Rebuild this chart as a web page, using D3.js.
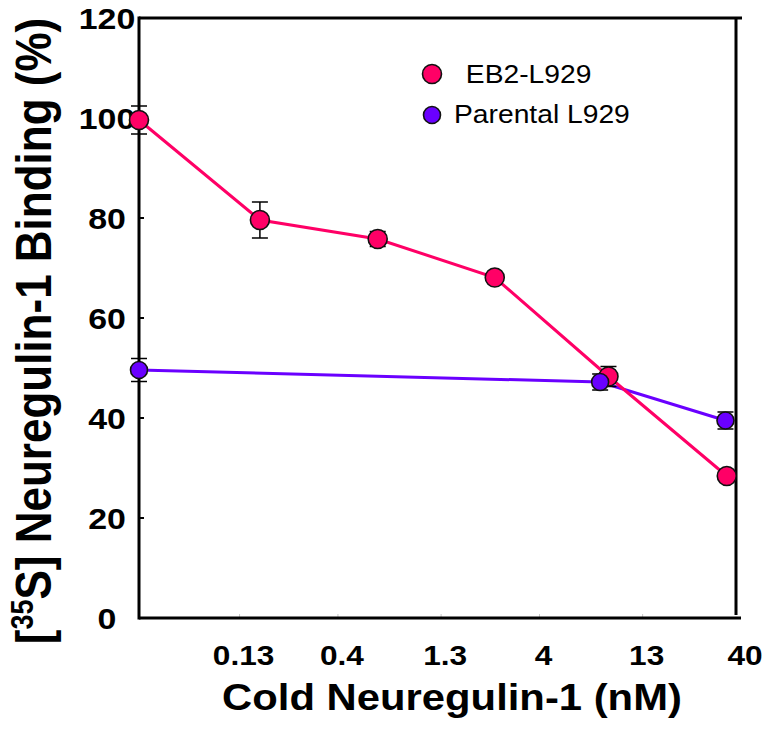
<!DOCTYPE html>
<html>
<head>
<meta charset="utf-8">
<script src="https://cdn.jsdelivr.net/npm/d3@7"></script>
<style>
  html, body { margin: 0; padding: 0; background: #fff; }
  svg { display: block; }
  text { font-family: "Liberation Sans", Arial, Helvetica, sans-serif; fill: #000; }
</style>
</head>
<body>
<svg id="chart" width="767" height="747"></svg>
<script>
// ---- data ----
const xDomain = [0.0412, 40];                 // nM, left edge = zero dose
const xTickValues = [0.13, 0.4, 1.3, 4, 13, 40];
const xTickLabels = ["0.13", "0.4", "1.3", "4", "13", "40"];
const yTickValues = [0, 20, 40, 60, 80, 100, 120];

const eb2Conc = [0, 0.164, 0.63, 2.4, 8.8, 34];
const eb2Val  = [99.6, 79.6, 75.8, 68.1, 48.3, 28.4];
const eb2Err  = [2.8, 3.6, 1.5, 0.8, 2.0, 0.8];

const parConc = [0, 8.0, 33.5];
const parVal  = [49.6, 47.2, 39.5];
const parErr  = [2.3, 1.6, 1.7];

const seriesNames = [" EB2-L929", "Parental L929"];
const seriesColors = ["#ff0066", "#6a00ff"];

// ---- layout ----
const svg = d3.select("#chart");
const L = 139, R = 741, T = 18, B = 618;
const SX = 1.13; // horizontal glyph stretch

const x = d3.scaleLog().domain(xDomain).range([L, R]);
const y = d3.scaleLinear().domain([0, 120]).range([B, T]);
const xp = c => x(c === 0 ? xDomain[0] : c);

function stretchedText(g, tx, ty, str, size, weight, anchor) {
  return g.append("text")
    .attr("transform", `translate(${tx},${ty}) scale(${SX},1)`)
    .attr("text-anchor", anchor)
    .attr("font-size", size)
    .attr("font-weight", weight)
    .text(str);
}

// x-axis faint ticks
const gx = svg.append("g");
xTickValues.slice(0, -1).forEach(v => {
  gx.append("line").attr("x1", x(v)).attr("x2", x(v)).attr("y1", B).attr("y2", B - 4)
    .attr("stroke", "#c8c8c8").attr("stroke-width", 1);
});
xTickValues.forEach((v, i) => {
  stretchedText(gx, x(v) + 4, 665, xTickLabels[i], 28, "bold", "middle");
});

// y-axis ticks
const gy = svg.append("g");
yTickValues.forEach(v => {
  if (v > 0 && v < 120) {
    gy.append("line").attr("x1", L).attr("x2", L + 5).attr("y1", y(v)).attr("y2", y(v))
      .attr("stroke", "#000").attr("stroke-width", 2);
  }
  stretchedText(gy, 107, y(v) + 11, String(v), 30, "bold", "middle");
});

// frame
const frame = svg.append("g").attr("stroke", "#000").attr("stroke-width", 3).attr("fill", "none");
frame.append("line").attr("x1", L).attr("x2", L).attr("y1", T - 1.5).attr("y2", B + 1.5);
frame.append("line").attr("x1", L).attr("x2", R + 1).attr("y1", T).attr("y2", T);
frame.append("line").attr("x1", L).attr("x2", R).attr("y1", B).attr("y2", B);
frame.append("line").attr("x1", R - 5).attr("x2", R - 5).attr("y1", T).attr("y2", B - 3);

// series
const eb2 = eb2Conc.map((c, i) => ({ c, v: eb2Val[i], e: eb2Err[i] }));
const par = parConc.map((c, i) => ({ c, v: parVal[i], e: parErr[i] }));
const line = d3.line().x(d => xp(d.c)).y(d => y(d.v));

function drawErr(data) {
  const g = svg.append("g").attr("stroke", "#000").attr("stroke-width", 1.5);
  data.forEach(d => {
    const cx = xp(d.c);
    g.append("line").attr("x1", cx).attr("x2", cx).attr("y1", y(d.v + d.e)).attr("y2", y(d.v - d.e));
    [d.v + d.e, d.v - d.e].forEach(t => {
      g.append("line").attr("x1", cx - 8).attr("x2", cx + 8).attr("y1", y(t)).attr("y2", y(t));
    });
  });
}
function drawMarkers(data, color, r) {
  svg.append("g").selectAll("circle").data(data).join("circle")
    .attr("cx", d => xp(d.c)).attr("cy", d => y(d.v)).attr("r", r)
    .attr("fill", color).attr("stroke", "#111").attr("stroke-width", 1.6);
}

svg.append("path").datum(par).attr("d", line).attr("fill", "none")
  .attr("stroke", seriesColors[1]).attr("stroke-width", 3);
svg.append("path").datum(eb2).attr("d", line).attr("fill", "none")
  .attr("stroke", seriesColors[0]).attr("stroke-width", 3);
drawErr(eb2);
drawErr(par);
drawMarkers(eb2, seriesColors[0], 9.5);
drawMarkers(par, seriesColors[1], 8.5);

// legend
const lg = svg.append("g");
lg.append("circle").attr("cx", 432).attr("cy", 74).attr("r", 9.5)
  .attr("fill", seriesColors[0]).attr("stroke", "#111").attr("stroke-width", 1.6);
lg.append("circle").attr("cx", 432).attr("cy", 115).attr("r", 8.5)
  .attr("fill", seriesColors[1]).attr("stroke", "#111").attr("stroke-width", 1.6);
stretchedText(lg, 458, 83, seriesNames[0], 25, "normal", "start").attr("xml:space", "preserve").style("white-space", "pre");
stretchedText(lg, 454, 123, seriesNames[1], 25, "normal", "start");

// axis titles
stretchedText(svg, 452, 710, "Cold Neuregulin-1 (nM)", 37, "bold", "middle");

const yt = svg.append("text")
  .attr("transform", `translate(51,331) scale(${SX},1) rotate(-90)`)
  .attr("text-anchor", "middle")
  .attr("font-size", 44)
  .attr("font-weight", "bold");
yt.append("tspan").text("[");
yt.append("tspan").attr("font-size", 27).attr("dy", -16).text("35");
yt.append("tspan").attr("dy", 16).text("S] Neuregulin-1 Binding (%)");
</script>
</body>
</html>
